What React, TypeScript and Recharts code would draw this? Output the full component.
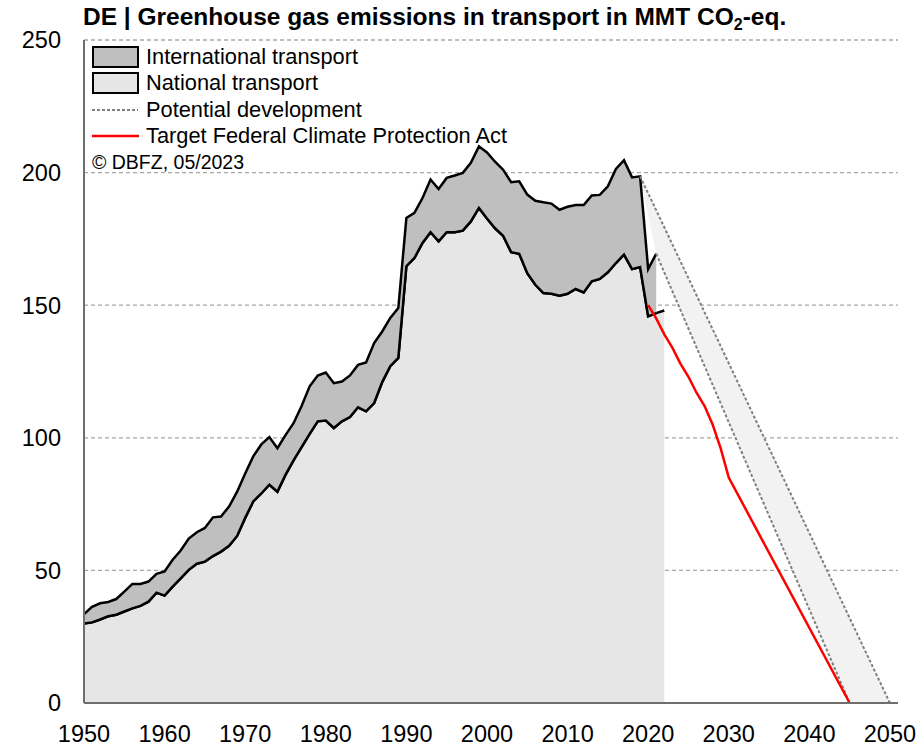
import { ComposedChart, Area, Line, XAxis, YAxis, CartesianGrid } from "recharts"

const FONT = "'Liberation Sans', Arial, Helvetica, sans-serif"

const firstYear = 1950

// National transport, 1950-2022 (MMT CO2-eq.)
const national = [
  30.0, 30.4, 31.5, 32.7, 33.3, 34.5, 35.7, 36.6, 38.2, 41.6,
  40.5, 43.9, 47.0, 50.2, 52.5, 53.3, 55.4, 57.1, 59.3, 63.0,
  69.8, 76.0, 79.0, 82.3, 79.7, 86.0, 91.5, 96.5, 101.5, 106.2,
  106.5, 103.7, 106.2, 107.8, 111.5, 110.0, 113.1, 121.0, 127.0, 130.1,
  164.7, 167.8, 173.5, 177.5, 174.1, 177.5, 177.5, 178.1, 181.6, 186.7,
  182.7, 179.0, 176.2, 170.0, 169.4, 162.1, 157.7, 154.6, 154.3, 153.6,
  154.3, 156.1, 154.8, 159.0, 159.9, 162.4, 165.9, 169.1, 163.6, 164.4,
  145.8, 147.0, 148.0,
]

// National + international transport, 1950-2021 (top of the dark band)
const total = [
  33.5, 36.3, 37.6, 38.1, 39.2, 42.0, 44.9, 44.9, 45.8, 48.7,
  49.6, 54.0, 57.5, 62.0, 64.4, 66.0, 70.0, 70.3, 74.1, 79.7,
  86.5, 93.0, 97.5, 100.3, 96.1, 101.0, 105.5, 112.0, 119.4, 123.5,
  124.6, 120.6, 121.2, 123.5, 127.5, 128.4, 135.7, 140.1, 145.2, 148.9,
  182.9, 184.8, 190.4, 197.4, 193.8, 198.0, 198.9, 199.9, 203.7, 209.9,
  207.6, 204.1, 201.1, 196.4, 196.7, 191.7, 189.4, 188.8, 188.3, 186.0,
  187.1, 187.8, 187.8, 191.4, 191.6, 194.8, 201.4, 204.7, 198.2, 198.6,
  163.6, 169.4,
]

// Target Federal Climate Protection Act
const targetYears = [2020, 2021, 2022, 2023, 2024, 2025, 2026, 2027, 2028, 2029, 2030, 2045]
const targetValues = [150, 145, 139, 134, 128, 123, 117, 112, 105, 96, 85, 0]

// Potential development: two straight paths to zero
const potentialHighYears = [2019, 2050]
const potentialHighValues = [198.6, 0]
const potentialLowYears = [2021, 2045]
const potentialLowValues = [169.4, 0]

const xTicks = [1950, 1960, 1970, 1980, 1990, 2000, 2010, 2020, 2030, 2040, 2050]
const yTicks = [0, 50, 100, 150, 200, 250]

const nationalData = national.map((v, i) => ({ year: firstYear + i, value: v }))
const intlData = total.map((v, i) => ({ year: firstYear + i, range: [national[i], v] }))
const targetData = targetYears.map((y, i) => ({ year: y, value: targetValues[i] }))
const highData = potentialHighYears.map((y, i) => ({ year: y, value: potentialHighValues[i] }))
const lowData = potentialLowYears.map((y, i) => ({ year: y, value: potentialLowValues[i] }))

// value of the upper potential path at a given year (it is a straight line)
const onHigh = (year: number) =>
  potentialHighValues[0] +
  ((potentialHighValues[1] - potentialHighValues[0]) * (year - potentialHighYears[0])) /
    (potentialHighYears[1] - potentialHighYears[0])

const bandData = [
  { year: potentialHighYears[0], range: [potentialHighValues[0], potentialHighValues[0]] },
  { year: potentialLowYears[0], range: [potentialLowValues[0], onHigh(potentialLowYears[0])] },
  { year: potentialLowYears[1], range: [potentialLowValues[1], onHigh(potentialLowYears[1])] },
  { year: potentialHighYears[1], range: [potentialHighValues[1], potentialHighValues[1]] },
]

const axisStyle = { stroke: "#6e6e6e", strokeWidth: 2 }
const tickStyle = { fill: "#000", fontSize: 23.5, fontFamily: FONT }

function LegendBox() {
  const text = { position: "absolute" as const, left: 146, fontSize: 21.8, lineHeight: "26px", whiteSpace: "nowrap" as const }
  return (
    <div style={{ position: "absolute", left: 0, top: 0, fontFamily: FONT, color: "#000" }}>
      <svg width={150} height={150} style={{ position: "absolute", left: 0, top: 0 }}>
        <rect x={93} y={47} width={45} height={20} fill="#bfbfbf" stroke="#000" strokeWidth={2} />
        <rect x={93} y={73} width={45} height={20} fill="#e6e6e6" stroke="#000" strokeWidth={2} />
        <line x1={92} y1={110} x2={138} y2={110} stroke="#808080" strokeWidth={2} strokeDasharray="3 2" />
        <line x1={92} y1={136} x2={139} y2={136} stroke="#ff0000" strokeWidth={2.5} />
      </svg>
      <div style={{ ...text, top: 44 }}>International transport</div>
      <div style={{ ...text, top: 70 }}>National transport</div>
      <div style={{ ...text, top: 97 }}>Potential development</div>
      <div style={{ ...text, top: 123 }}>Target Federal Climate Protection Act</div>
      <div style={{ ...text, left: 92, top: 149, fontSize: 19.5 }}>© DBFZ, 05/2023</div>
    </div>
  )
}

export default function App() {
  return (
    <div style={{ position: "absolute", left: 0, top: 0, width: 923, height: 748, background: "#fff" }}>
      <ComposedChart width={923} height={748} margin={{ top: 40, right: 25, bottom: 0, left: 0 }}>
        <CartesianGrid vertical={false} stroke="#a6a6a6" strokeDasharray="4 3" strokeWidth={1.3} />
        <XAxis
          type="number"
          dataKey="year"
          domain={[1950, 2051]}
          ticks={xTicks}
          interval={0}
          height={45}
          tickLine={false}
          tickSize={0}
          tickMargin={22}
          axisLine={axisStyle}
          tick={tickStyle}
        />
        <YAxis
          type="number"
          domain={[0, 250]}
          ticks={yTicks}
          interval={0}
          width={84}
          tickLine={false}
          tickSize={0}
          tickMargin={23}
          axisLine={axisStyle}
          tick={tickStyle}
        />
        <Area
          data={bandData}
          dataKey="range"
          type="linear"
          stroke="none"
          fill="#f2f2f2"
          fillOpacity={1}
          isAnimationActive={false}
          activeDot={false}
        />
        <Area
          data={nationalData}
          dataKey="value"
          type="linear"
          stroke="#000"
          strokeWidth={2.5}
          fill="#e6e6e6"
          fillOpacity={1}
          isAnimationActive={false}
          activeDot={false}
        />
        <Area
          data={intlData}
          dataKey="range"
          type="linear"
          stroke="#000"
          strokeWidth={2.5}
          fill="#bfbfbf"
          fillOpacity={1}
          isAnimationActive={false}
          activeDot={false}
        />
        <Line
          data={highData}
          dataKey="value"
          type="linear"
          stroke="#808080"
          strokeWidth={2}
          strokeDasharray="3 2"
          dot={false}
          activeDot={false}
          isAnimationActive={false}
        />
        <Line
          data={lowData}
          dataKey="value"
          type="linear"
          stroke="#808080"
          strokeWidth={2}
          strokeDasharray="3 2"
          dot={false}
          activeDot={false}
          isAnimationActive={false}
        />
        <Line
          data={targetData}
          dataKey="value"
          type="linear"
          stroke="#ff0000"
          strokeWidth={2.5}
          dot={false}
          activeDot={false}
          isAnimationActive={false}
        />
      </ComposedChart>
      <div
        style={{
          position: "absolute",
          left: 83,
          top: 5,
          fontFamily: FONT,
          fontWeight: "bold",
          fontSize: 24.5,
          lineHeight: "24.5px",
          whiteSpace: "nowrap",
          color: "#000",
        }}
      >
        DE | Greenhouse gas emissions in transport in MMT CO
        <sub style={{ fontSize: "0.65em", verticalAlign: "-0.3em", lineHeight: 0 }}>2</sub>-eq.
      </div>
      <LegendBox />
    </div>
  )
}
